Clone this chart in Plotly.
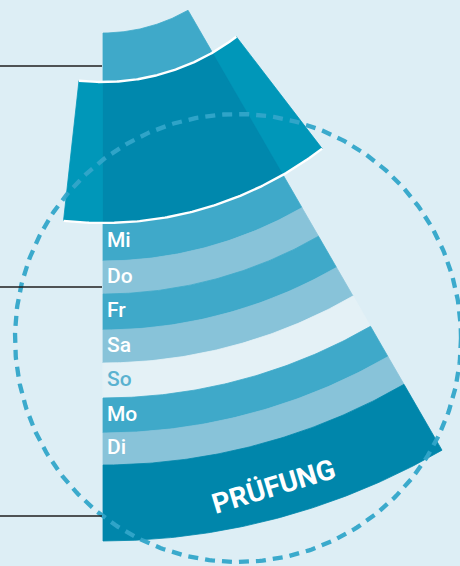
import numpy as np
import plotly.graph_objects as go

# ---------------- data ----------------
days = ["Mi", "Do", "Fr", "Sa", "So", "Mo", "Di"]
day_inner_radius = [360, 398, 431, 467, 500, 535, 570]
day_outer_radius = [398, 431, 467, 500, 535, 570, 602]
day_tone = ["mid", "light", "mid", "light", "pale", "mid", "light"]

exam_label = "PRÜFUNG"
exam_radius = [602, 678]

top_radius = [170, 219]          # light cap of the wedge
focus_radius = [219, 360]        # highlighted (magnified) segment
wedge_span = [0, 30]             # degrees, measured from straight down
focus_span = [-6.3, 37.5]

guide_line_y = [66, 287, 516]

# ---------------- style ----------------
BG = "#ddeef5"
COL = {"mid": "#3fa9c9", "light": "#88c3d9", "pale": "#e4f1f6"}
DARK = "#0086ab"
FOCUS_OUT = "#0097b9"
FOCUS_IN = "#0088ad"
CENTER = (103, -137)
W, H = 460, 566


def polar_xy(r, a_deg):
    a = np.radians(a_deg)
    return CENTER[0] + r * np.sin(a), CENTER[1] + r * np.cos(a)


def sector(r0, r1, a0, a1, n=90):
    a = np.linspace(a0, a1, n)
    xo, yo = polar_xy(r1, a)
    xi, yi = polar_xy(r0, a[::-1])
    x = np.concatenate([xo, xi, xo[:1]])
    y = np.concatenate([yo, yi, yo[:1]])
    return x, y


fig = go.Figure()


def add_sector(r0, r1, a0, a1, color, lw=0.8):
    x, y = sector(r0, r1, a0, a1)
    fig.add_trace(go.Scatter(x=x, y=y, mode="lines", fill="toself",
                             fillcolor=color, line=dict(color=color, width=lw),
                             hoverinfo="skip"))


# top cap
add_sector(top_radius[0], top_radius[1] + 6, wedge_span[0], wedge_span[1], COL["mid"])

# day bands
for r0, r1, tone in zip(day_inner_radius, day_outer_radius, day_tone):
    add_sector(r0, r1, wedge_span[0], wedge_span[1], COL[tone])

# exam band
add_sector(exam_radius[0], exam_radius[1], wedge_span[0], wedge_span[1], DARK)

# highlighted segment (wider) and its overlap with the wedge
add_sector(focus_radius[0], focus_radius[1], focus_span[0], focus_span[1], FOCUS_OUT)
add_sector(focus_radius[0], focus_radius[1], wedge_span[0], wedge_span[1], FOCUS_IN, lw=0.3)

# white rims on the highlighted segment
for r in focus_radius:
    a = np.linspace(focus_span[0], focus_span[1], 120)
    x, y = polar_xy(r, a)
    fig.add_trace(go.Scatter(x=x, y=y, mode="lines",
                             line=dict(color="white", width=2.4), hoverinfo="skip"))

# dashed circle
t = np.linspace(0, 2 * np.pi, 500)
fig.add_trace(go.Scatter(x=238 + 223 * np.cos(t), y=338 + 224 * np.sin(t), mode="lines",
                         line=dict(color="rgba(50,165,201,0.95)", width=4.3, dash="10px,7px"),
                         hoverinfo="skip"))

# guide lines on the left
for gy in guide_line_y:
    fig.add_trace(go.Scatter(x=[0, 102], y=[gy, gy], mode="lines",
                             line=dict(color="#1e1e1e", width=1.3), hoverinfo="skip"))

# day labels
for d, r0, r1, tone in zip(days, day_inner_radius, day_outer_radius, day_tone):
    fig.add_annotation(x=CENTER[0] + 2, y=CENTER[1] + (r0 + r1) / 2 - 2, text=d,
                       showarrow=False, xanchor="left", yanchor="middle",
                       font=dict(family="Roboto", size=21, weight=500,
                                 color="#5ab2d0" if tone == "pale" else "white"))

# exam label
ang = 15.3
rx, ry = polar_xy((exam_radius[0] + exam_radius[1]) / 2 + 6, ang)
fig.add_annotation(x=rx, y=ry, text="<b>" + exam_label + "</b>", showarrow=False,
                   textangle=-ang - 1.5, xanchor="center", yanchor="middle",
                   font=dict(family="Roboto", size=28, color="white"))

fig.update_layout(width=W, height=H, margin=dict(l=0, r=0, t=0, b=0),
                  paper_bgcolor=BG, plot_bgcolor=BG, showlegend=False,
                  xaxis=dict(range=[0, W], visible=False, fixedrange=True),
                  yaxis=dict(range=[H, 0], visible=False, fixedrange=True))

fig.write_html("out.html", config={"displayModeBar": False},
               post_script="document.body.style.margin='0';"
                           "document.body.style.background='%s';"
                           "document.body.style.overflow='hidden';" % BG)
